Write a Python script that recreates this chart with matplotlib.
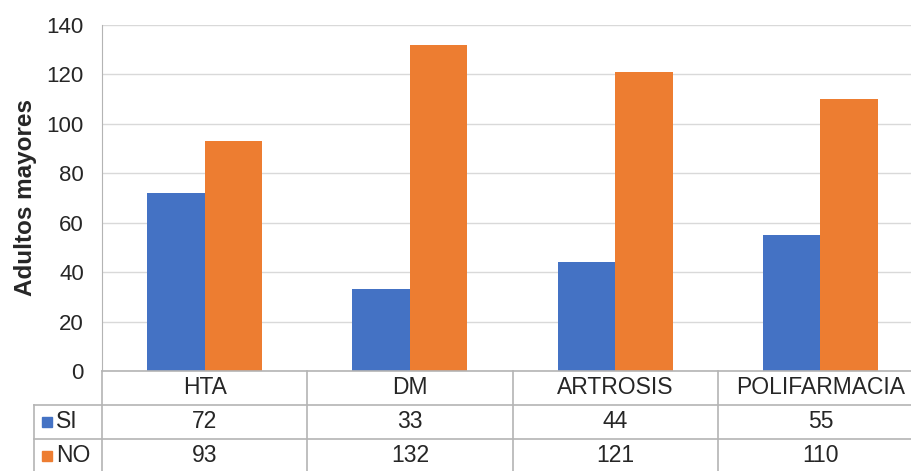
import matplotlib.pyplot as plt
import numpy as np

# data
categorias = ["HTA", "DM", "ARTROSIS", "POLIFARMACIA"]
si = [72, 33, 44, 55]
no = [93, 132, 121, 110]
series = ["SI", "NO"]
colores = ["#4472C4", "#ED7D31"]

plt.rcParams["font.family"] = ["Liberation Sans", "DejaVu Sans"]
txt = "#262626"
linea = "#B4B4B4"

W, H = 911, 471
fig = plt.figure(figsize=(W / 100, H / 100), dpi=100)

# plot area in pixels
x0, x1 = 102, 923
y_top, y_bot = 25, 371
ax = fig.add_axes([x0 / W, (H - y_bot) / H, (x1 - x0) / W, (y_bot - y_top) / H])

x = np.arange(len(categorias))
w = 0.28
ax.bar(x - w / 2, si, w, color=colores[0], zorder=3)
ax.bar(x + w / 2, no, w, color=colores[1], zorder=3)

ax.set_xlim(-0.5, len(categorias) - 0.5)
ax.set_ylim(0, 140)
ax.set_yticks(range(0, 141, 20))
ax.set_xticks([])
ax.grid(axis="y", color="#D9D9D9", linewidth=1, zorder=0)
for s in ["top", "right", "bottom"]:
    ax.spines[s].set_visible(False)
ax.spines["left"].set_color(linea)
ax.tick_params(axis="y", length=0, pad=13, labelsize=16, labelcolor=txt)
ax.set_ylabel("Adultos mayores", fontsize=17.5, fontweight="bold", color=txt, labelpad=7)

# data table below
row_h = 34
t_top, t_bot = 371, 371 + 3 * row_h
tx0 = 34
ta = fig.add_axes([tx0 / W, (H - t_bot) / H, (x1 - tx0) / W, (t_bot - t_top) / H])
cw = (x1 - x0) / len(categorias)
left = -0.5 - (x0 - tx0) / cw
ta.set_xlim(left, len(categorias) - 0.5)
ta.set_ylim(3, 0)
ta.axis("off")

lw = 1.2
ta.plot([-0.5, 3.5], [0, 0], color=linea, lw=lw, clip_on=False)
for r in [1, 2, 3]:
    ta.plot([left, 3.5], [r, r], color=linea, lw=lw, clip_on=False)
ta.plot([left, left], [1, 3], color=linea, lw=lw, clip_on=False)
for c in range(len(categorias)):
    ta.plot([c - 0.5, c - 0.5], [0, 3], color=linea, lw=lw, clip_on=False)

fs = 16.5
for i, cat in enumerate(categorias):
    ta.text(i, 0.5, cat, ha="center", va="center", fontsize=fs, color=txt)
    ta.text(i, 1.5, str(si[i]), ha="center", va="center", fontsize=fs, color=txt)
    ta.text(i, 2.5, str(no[i]), ha="center", va="center", fontsize=fs, color=txt)

for r, (nombre, col) in enumerate(zip(series, colores)):
    ta.plot(left + 0.063, r + 1.5, marker="s", markersize=7.5, color=col, clip_on=False)
    ta.text(left + 0.108, r + 1.5, nombre, ha="left", va="center", fontsize=fs, color=txt)

fig.savefig("out.png", dpi=100)
